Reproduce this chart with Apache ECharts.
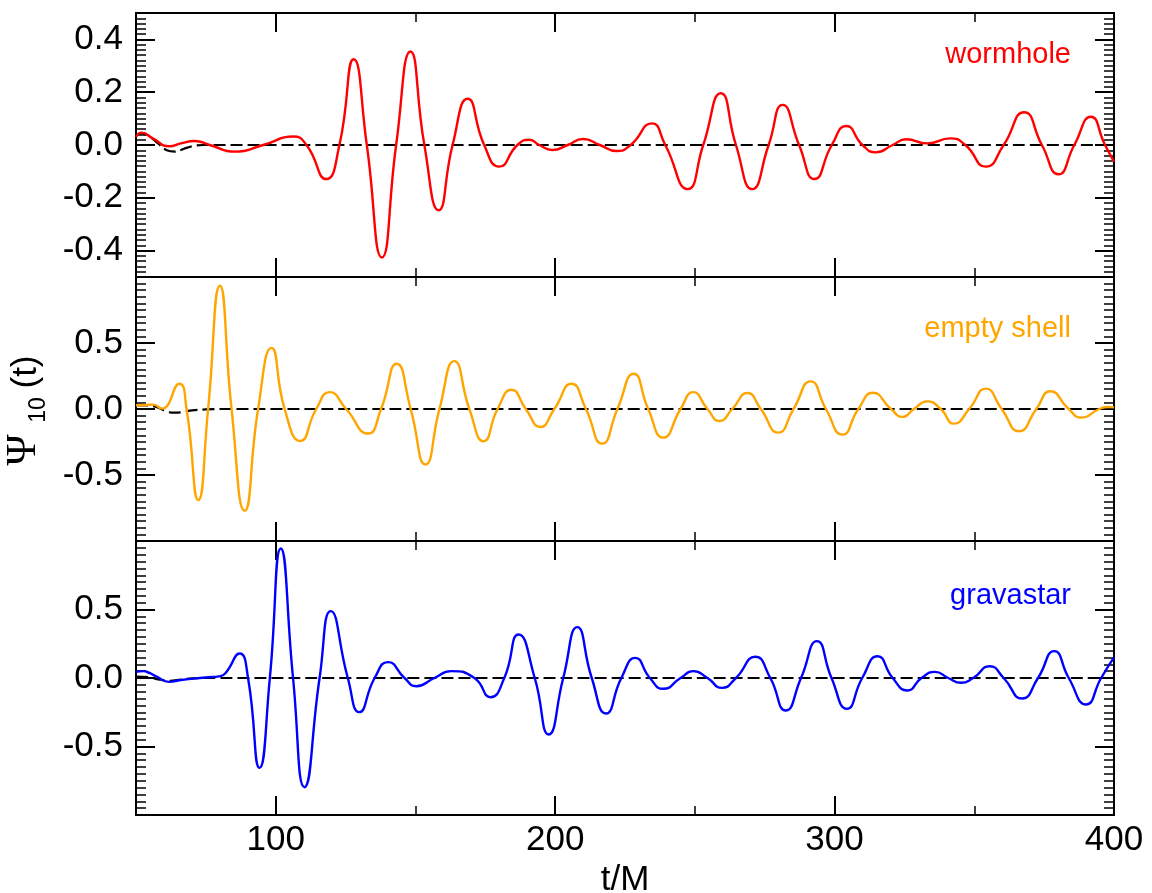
<!DOCTYPE html>
<html><head><meta charset="utf-8">
<script src="https://cdn.jsdelivr.net/npm/echarts@6/dist/echarts.min.js"></script>
<style>html,body{margin:0;padding:0;background:#fff}#c{width:1152px;height:893px}</style>
</head><body><div id="c"></div>
<script>
// ---- data (t/M, Psi_10) ----
const xTickLabels = [100, 200, 300, 400];
const xMajorTicks = [100, 200, 300];
const xMinorTicks = [150, 250, 350];
const wormholeTicks = [-0.4, -0.2, 0, 0.2, 0.4];
const shellTicks = [-0.5, 0, 0.5];
const gravastarTicks = [-0.5, 0, 0.5];

const wormhole = [[50,0.03],[52,0.047],[56,0.025],[62,-0.005],[66,0.006],[71,0.015],[76.4,0],[85.4,-0.025],[95.5,0],[106.2,0.032],[111,0],[118.1,-0.129],[122.8,0],[127.9,0.325],[132.6,0],[138,-0.426],[143.1,0],[148.2,0.354],[153.2,0],[158.3,-0.247],[163.3,0],[168.7,0.175],[174.6,0],[180,-0.082],[186.5,0],[190.8,0.02],[194.3,0],[199,-0.019],[204.5,0],[210,0.023],[216,0],[222,-0.023],[227,0],[234.6,0.082],[239.4,0],[247.4,-0.167],[253,0],[259.3,0.196],[264.7,0],[270.5,-0.167],[276.4,0],[281.4,0.152],[287.3,0],[292.8,-0.129],[299,0],[304.2,0.072],[310,0],[314.7,-0.028],[320.8,0],[325.6,0.022],[333.2,0.006],[341.4,0.025],[346.8,0],[354.1,-0.082],[360.5,0],[367.8,0.124],[374.2,0],[380.1,-0.111],[385.8,0],[391.7,0.107],[396.8,0],[400,-0.063]];
const wormholeRef = [[50,0.035],[52,0.045],[55,0.03],[58,0.005],[61,-0.02],[64,-0.025],[67,-0.015],[70,-0.005],[74,0],[80,0],[400,0]];

const shell = [[50,0.028],[53,0.03],[56.2,0.033],[59.2,0.003],[65.5,0.191],[68.1,0],[72.3,-0.69],[75.8,0],[80,0.934],[84.2,0],[88.9,-0.771],[93.7,0],[98.5,0.463],[103.2,0],[108.8,-0.242],[114.5,0],[119.3,0.128],[125.2,0],[133,-0.186],[137.7,0],[143.3,0.343],[148.3,0],[153.6,-0.421],[158.6,0],[163.9,0.363],[169.3,0],[174.4,-0.244],[179.4,0],[184.4,0.146],[189.5,0],[194.7,-0.136],[199.7,0],[205.9,0.191],[211,0],[216.8,-0.262],[222.3,0],[228.1,0.267],[233.3,0],[238.7,-0.217],[244.9,0],[249.4,0.128],[254.5,0],[258.8,-0.091],[263.4,0],[268.8,0.121],[273.6,0],[279.8,-0.179],[285.3,0],[291.4,0.209],[296.9,0],[302.8,-0.194],[308.5,0],[313.7,0.123],[320.2,0],[324.3,-0.06],[328.4,0],[333.2,0.058],[338,0],[342.7,-0.111],[348.2,0],[354.1,0.154],[359.8,0],[366,-0.169],[372.2,0],[377.2,0.134],[383.8,0],[388.3,-0.065],[394.7,0],[398,0.015],[400,0.012]];
const shellRef = [[50,0.03],[55,0.025],[58,0.01],[61,-0.02],[64,-0.028],[67,-0.022],[70,-0.01],[74,-0.004],[80,0],[90,0],[400,0]];

const gravastar = [[50,0.045],[52.6,0.05],[55,0.035],[57.4,0.01],[61.9,-0.028],[66,-0.015],[71.4,-0.003],[76,0.005],[79.6,0.012],[82,0.035],[87.1,0.179],[90.1,0],[94.2,-0.656],[97.9,0],[101.8,0.945],[106.2,0],[110.3,-0.797],[115.7,0],[119.7,0.488],[125.8,0],[129.9,-0.249],[135.4,0],[140.2,0.116],[146.1,0],[150.3,-0.06],[156.8,0],[162.8,0.05],[171.1,0],[176.9,-0.14],[181.8,0],[186.9,0.318],[192.7,0],[197.7,-0.412],[202.9,0],[207.9,0.371],[213.1,0],[218.2,-0.259],[223.7,0],[228.7,0.147],[233.9,0],[238.7,-0.079],[244.9,0],[249.4,0.05],[254.5,0],[259.7,-0.072],[264.7,0],[271.6,0.155],[277,0],[282.5,-0.237],[288,0],[293.7,0.269],[298.9,0],[304.4,-0.225],[309.9,0],[315.4,0.159],[320.8,0],[326,-0.091],[331.1,0],[335.9,0.045],[340.7,0],[345.2,-0.035],[349.6,0],[355.5,0.086],[360.5,0],[367.1,-0.15],[372.8,0],[378.6,0.196],[383.8,0],[390,-0.193],[395.4,0],[400,0.15]];
const gravastarRef = [[50,0.01],[55,0.005],[58,-0.01],[62,-0.02],[66,-0.012],[70,-0.003],[75,0],[80,0],[400,0]];

const seriesNames = ['wormhole', 'empty shell', 'gravastar'];

// ---- layout / style ----
const FONT = 'Liberation Sans';
const panels = [
  {data: wormhole, ref: wormholeRef, color: '#ff0000', ticks: wormholeTicks, min: -0.5, max: 0.5, minor: 0.02, top: 13, height: 264, labelY: 40},
  {data: shell, ref: shellRef, color: '#ffa500', ticks: shellTicks, min: -1, max: 1, minor: 0.05, top: 277, height: 264, labelY: 314},
  {data: gravastar, ref: gravastarRef, color: '#0000ff', ticks: gravastarTicks, min: -1, max: 1, minor: 0.05, top: 541, height: 274, labelY: 581}
];

const grids = [], xAxes = [], yAxes = [], series = [], graphics = [];
const tickStyle = (len, w) => ({show: true, inside: true, length: len, lineStyle: {color: '#000', width: w}});
const noLine = {show: false, onZero: false};

panels.forEach((p, i) => {
  const last = i === panels.length - 1;
  grids.push({left: 136, right: 38, top: p.top, height: p.height, show: true, borderColor: '#000', borderWidth: 2,
    backgroundColor: 'transparent', containLabel: false, outerBoundsMode: 'none'});
  const xBase = {type: 'value', gridIndex: i, min: 50, max: 400, interval: 50, splitLine: {show: false}, axisLine: noLine, axisLabel: {show: false}};
  // bottom minor, bottom major, top minor, top major
  xAxes.push(Object.assign({}, xBase, {position: 'bottom', axisTick: Object.assign(tickStyle(9, 1.5), {customValues: xMinorTicks})}));
  const bottomMajor = Object.assign({}, xBase, {position: 'bottom', axisTick: Object.assign(tickStyle(19, 2), {customValues: xMajorTicks})});
  if (last) {
    bottomMajor.axisLabel = {show: true, customValues: xTickLabels, fontSize: 35, fontFamily: FONT, color: '#000', margin: 8};
    bottomMajor.name = 't/M';
    bottomMajor.nameLocation = 'middle';
    bottomMajor.nameGap = 48;
    bottomMajor.nameTextStyle = {fontSize: 35, fontFamily: FONT, color: '#000'};
  }
  xAxes.push(bottomMajor);
  xAxes.push(Object.assign({}, xBase, {position: 'top', axisTick: Object.assign(tickStyle(9, 1.5), {customValues: xMinorTicks})}));
  xAxes.push(Object.assign({}, xBase, {position: 'top', axisTick: Object.assign(tickStyle(19, 2), {customValues: xMajorTicks})}));

  const yBase = {type: 'value', gridIndex: i, min: p.min, max: p.max, splitLine: {show: false}, axisLine: noLine, axisLabel: {show: false}};
  // left major (with labels), left minor, right major, right minor
  yAxes.push(Object.assign({}, yBase, {position: 'left',
    axisTick: Object.assign(tickStyle(19, 2), {customValues: p.ticks}),
    axisLabel: {show: true, customValues: p.ticks, fontSize: 35, fontFamily: FONT, color: '#000', margin: 13, formatter: v => Number(v).toFixed(1)}}));
  yAxes.push(Object.assign({}, yBase, {position: 'left', interval: p.minor, axisTick: tickStyle(10, 1.5)}));
  yAxes.push(Object.assign({}, yBase, {position: 'right', axisTick: Object.assign(tickStyle(19, 2), {customValues: p.ticks})}));
  yAxes.push(Object.assign({}, yBase, {position: 'right', interval: p.minor, axisTick: tickStyle(10, 1.5)}));

  series.push({type: 'line', name: seriesNames[i] + ' ref', xAxisIndex: 4 * i, yAxisIndex: 4 * i, data: p.ref, smooth: 0.4, showSymbol: false, symbol: 'none', z: 2,
    lineStyle: {color: '#000', width: 2.2, type: [12, 5]}});
  series.push({type: 'line', name: seriesNames[i], xAxisIndex: 4 * i, yAxisIndex: 4 * i, data: p.data, smooth: 0.55, showSymbol: false, symbol: 'none', z: 3,
    lineStyle: {color: p.color, width: 2.4}});

  graphics.push({type: 'text', right: 1152 - 1071, top: p.labelY, z: 10,
    style: {text: seriesNames[i], fill: p.color, font: '29px "' + FONT + '"', textAlign: 'right'}});
});

// y axis title  Psi_10(t), rotated
graphics.push({type: 'text', x: 24, y: 450, rotation: Math.PI / 2, z: 10,
  style: {text: 'Ψ', fill: '#000', font: '42px "Liberation Serif"', textAlign: 'center', textVerticalAlign: 'middle'}});
graphics.push({type: 'text', x: 39, y: 410, rotation: Math.PI / 2, z: 10,
  style: {text: '10', fill: '#000', font: '23px "' + FONT + '"', textAlign: 'center', textVerticalAlign: 'middle'}});
graphics.push({type: 'text', x: 26, y: 372, rotation: Math.PI / 2, z: 10,
  style: {text: '(t)', fill: '#000', font: '35px "' + FONT + '"', textAlign: 'center', textVerticalAlign: 'middle'}});

const chart = echarts.init(document.getElementById('c'), null, {renderer: 'canvas'});
chart.setOption({
  animation: false,
  backgroundColor: '#fff',
  grid: grids,
  xAxis: xAxes,
  yAxis: yAxes,
  series: series,
  graphic: graphics
});
</script>
</body></html>
